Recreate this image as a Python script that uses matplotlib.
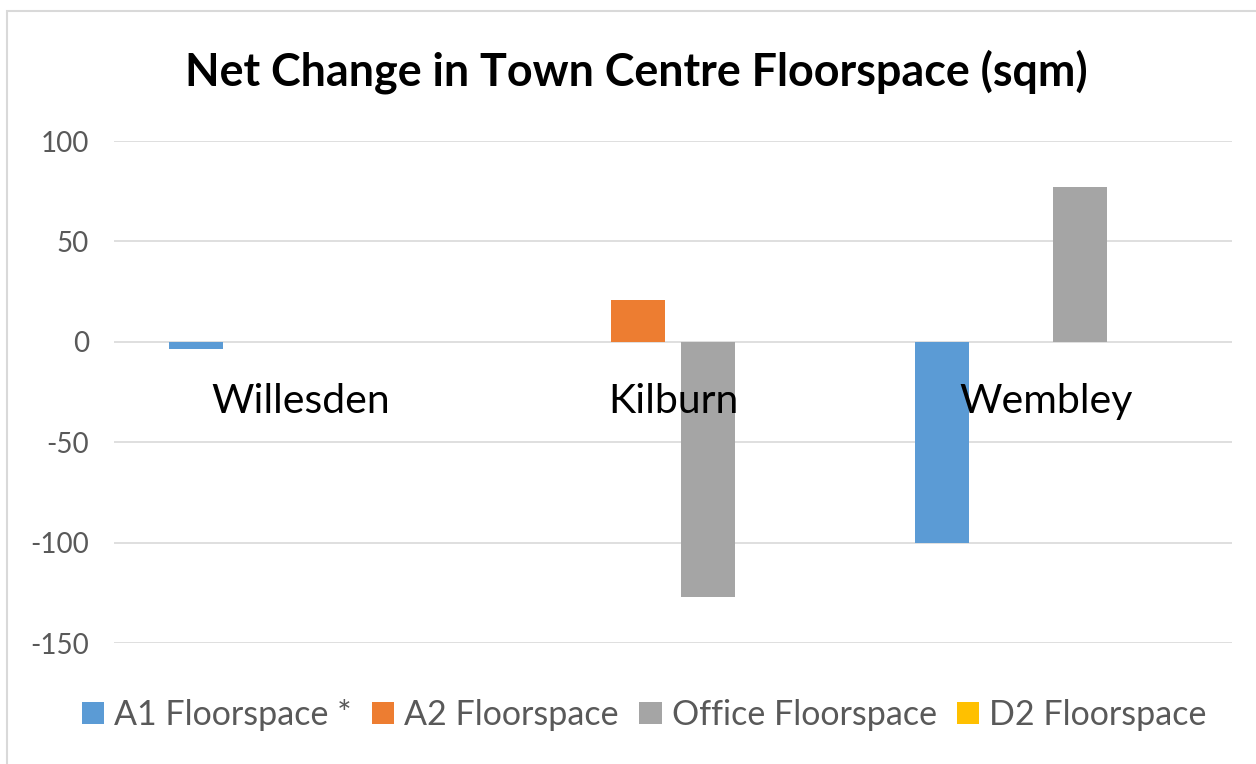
import matplotlib
matplotlib.use("Agg")
import matplotlib.pyplot as plt
from matplotlib.patches import Rectangle
import numpy as np

categories = ["Willesden", "Kilburn", "Wembley"]
series_names = ["A1 Floorspace *", "A2 Floorspace", "Office Floorspace", "D2 Floorspace"]
a1_values = [-3.5, 0, -100]
a2_values = [0, 21, 0]
office_values = [0, -127, 77]
d2_values = [0, 0, 0]
series_values = [a1_values, a2_values, office_values, d2_values]
colors = ["#5B9BD5", "#ED7D31", "#A5A5A5", "#FFC000"]
yticks = [100, 50, 0, -50, -100, -150]

plt.rcParams['font.family'] = ['Lato', 'DejaVu Sans']

fig = plt.figure(figsize=(12.56, 7.64), dpi=100)
ax = fig.add_axes([114 / 1256, 1 - 643 / 764, (1232 - 114) / 1256, (643 - 141) / 764])

x = np.arange(len(categories))
step = 0.186
width = 0.1455
for i, (name, vals, c) in enumerate(zip(series_names, series_values, colors)):
    ax.bar(x + (i - 1.5) * step, vals, width=width, color=c, label=name, zorder=3)

ax.set_xlim(-0.5, len(categories) - 0.5)
ax.set_ylim(-150, 100)
ax.set_yticks(yticks)
ax.set_yticklabels([str(v) for v in yticks], fontsize=20, color="#595959")
ax.tick_params(axis='y', length=0, pad=18)
ax.yaxis.grid(True, color="#D9D9D9", linewidth=1.2, zorder=0)
for s in ax.spines.values():
    s.set_visible(False)
ax.set_xticks([])

# category labels drawn just below the zero line, on top of the bars
for xi, name in zip(x, categories):
    ax.annotate(name, xy=(xi, 0), xytext=(0, -43), textcoords='offset points',
                ha='center', va='center', fontsize=29.5, color="#000000", zorder=6)

fig.text(0.507, 1 - 72 / 764, "Net Change in Town Centre Floorspace (sqm)",
         ha='center', va='center', fontsize=32.3, fontweight='bold', color="#000000")

leg = fig.legend(loc='center', bbox_to_anchor=(0.513, 1 - 715 / 764), ncol=4,
                 frameon=False, fontsize=24.5, handlelength=0.65, handleheight=0.65,
                 handletextpad=0.3, columnspacing=0.6)
for t in leg.get_texts():
    t.set_color("#595959")

fig.patches.append(Rectangle((7 / 1256, -0.1), 1.2, 1 - 11 / 764 + 0.1,
                             transform=fig.transFigure, fill=False,
                             edgecolor="#D9D9D9", linewidth=1.5))

fig.savefig("out.png", dpi=100, facecolor="white")
